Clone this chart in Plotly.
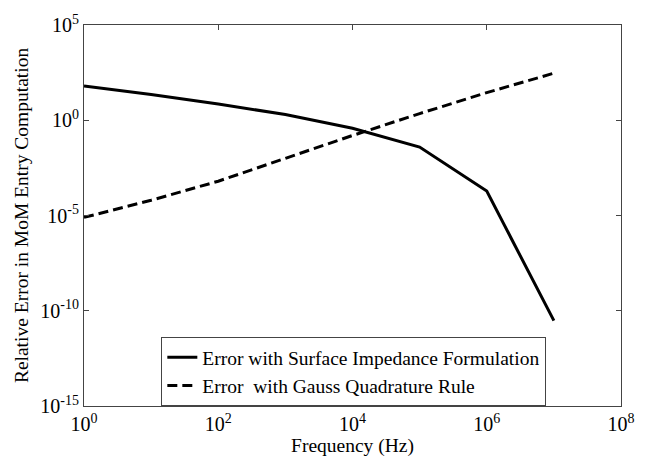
import plotly.graph_objects as go

freq = [1e0, 1e1, 1e2, 1e3, 1e4, 1e5, 1e6, 1e7]
err_surface_log = [1.80, 1.35, 0.85, 0.30, -0.42, -1.41, -3.72, -10.52]
err_gauss_log = [-5.1, -4.2, -3.2, -2.0, -0.8, 0.35, 1.45, 2.47]

x_tick_exps = [0, 2, 4, 6, 8]
y_tick_exps = [-15, -10, -5, 0, 5]

err_surface = [10 ** v for v in err_surface_log]
err_gauss = [10 ** v for v in err_gauss_log]

FONT = "Liberation Serif"

fig = go.Figure()
fig.add_trace(go.Scatter(x=freq, y=err_surface, mode="lines",
                         line=dict(color="black", width=3),
                         name="Error with Surface Impedance Formulation"))
fig.add_trace(go.Scatter(x=freq, y=err_gauss, mode="lines",
                         line=dict(color="black", width=3, dash="10px,5px"),
                         name="Error  with Gauss Quadrature Rule"))

axis_common = dict(showgrid=False, zeroline=False, showline=True, linecolor="#444",
                   linewidth=1, mirror="ticks", ticks="inside", ticklen=5, tickcolor="#444",
                   tickfont=dict(family=FONT, size=20, color="black"))

fig.update_xaxes(type="log", range=[0, 8],
                 tickvals=[10 ** e for e in x_tick_exps],
                 ticktext=[f"10<sup>{e}</sup>" for e in x_tick_exps],
                 title=dict(text="Frequency (Hz)", font=dict(family=FONT, size=19.5, color="black"), standoff=0),
                 **axis_common)
fig.update_yaxes(type="log", range=[-15, 5],
                 tickvals=[10 ** e for e in y_tick_exps],
                 ticktext=[f"10<sup>{e}</sup>" for e in y_tick_exps],
                 title=dict(text="Relative Error in MoM Entry Computation", font=dict(family=FONT, size=19.5, color="black"), standoff=6),
                 **axis_common)

fig.update_layout(
    width=647, height=461,
    margin=dict(l=84, r=22, t=20, b=51),
    paper_bgcolor="white", plot_bgcolor="white",
    font=dict(family=FONT, color="black"),
    legend=dict(x=0.144, y=0, xanchor="left", yanchor="bottom",
                bordercolor="#444", borderwidth=1, bgcolor="white",
                font=dict(family=FONT, size=19.5, color="black"), tracegroupgap=0),
)

fig.write_html("out.html")
